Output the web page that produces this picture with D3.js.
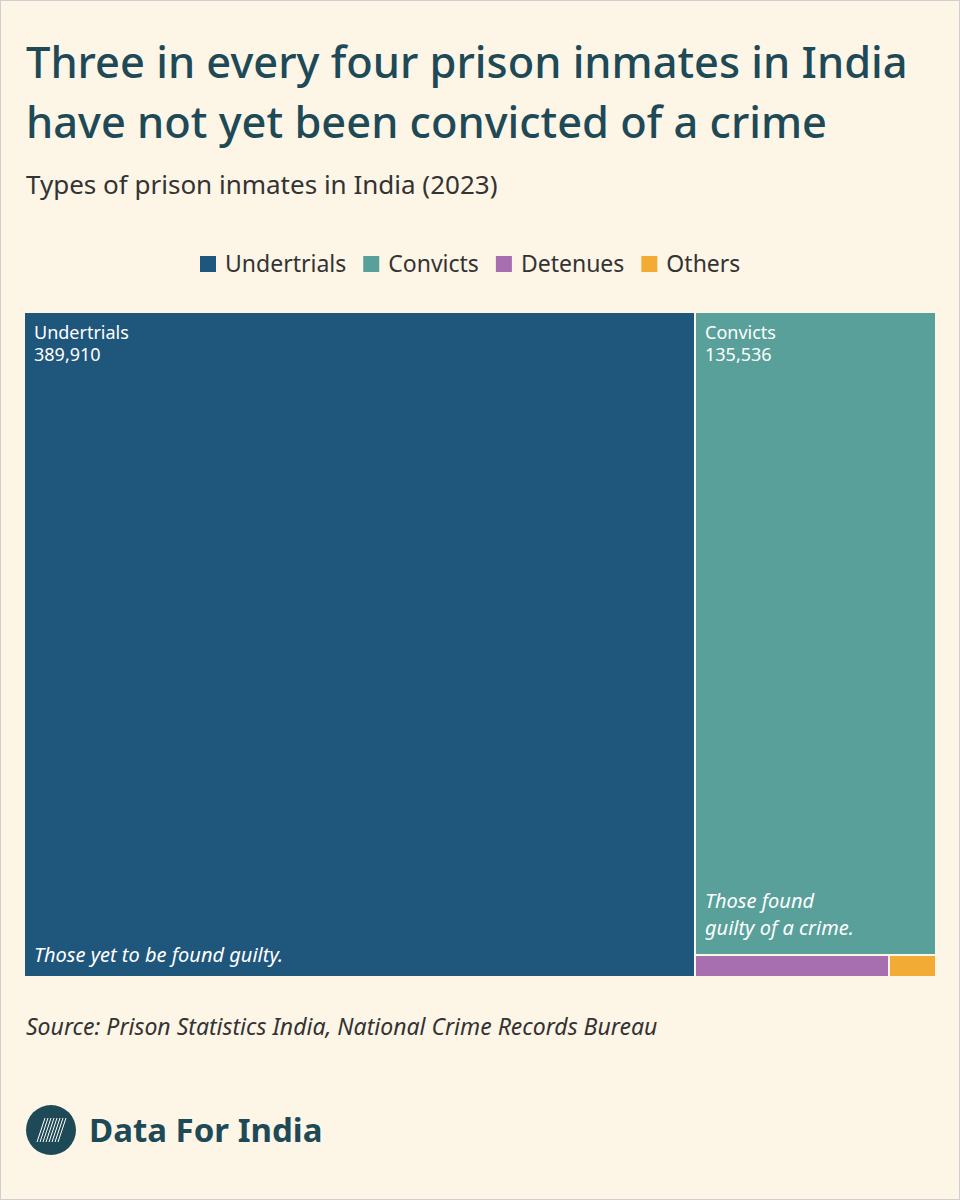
<!DOCTYPE html>
<html><head><meta charset="utf-8">
<script src="https://cdn.jsdelivr.net/npm/d3@7"></script>
<style>
body{margin:0;background:#fff;}
svg text{font-family:"Noto Sans",sans-serif;}
</style></head>
<body><div id="area"></div>
<script>
var categories = ['Undertrials', 'Convicts', 'Detenues', 'Others'];
var values = [389910, 135536, 3750, 900];
var colors = ['#1f567b', '#59a09a', '#a76eb0', '#f2ab34'];
var notes = {Undertrials: ['Those yet to be found guilty.'], Convicts: ['Those found', 'guilty of a crime.']};

var width = 960, height = 1200;
var svg = d3.select('#area').append('svg').attr('width', width).attr('height', height);
svg.append('rect').attr('x', 0.5).attr('y', 0.5).attr('width', width - 1).attr('height', height - 1)
  .attr('fill', '#fdf5e6').attr('stroke', '#cfcfcf');

svg.append('text').attr('x', 26).attr('y', 78).attr('font-size', 43.4).attr('font-weight', 500)
  .attr('fill', '#1e4a57').text('Three in every four prison inmates in India');
svg.append('text').attr('x', 26).attr('y', 138).attr('font-size', 43.4).attr('font-weight', 500)
  .attr('fill', '#1e4a57').text('have not yet been convicted of a crime');
svg.append('text').attr('x', 26).attr('y', 194).attr('font-size', 26)
  .attr('fill', '#333').text('Types of prison inmates in India (2023)');

// legend
var leg = svg.append('g').attr('transform', 'translate(0,264)');
var lx = 200;
categories.forEach(function(c, i) {
  leg.append('rect').attr('x', lx).attr('y', -8).attr('width', 16).attr('height', 16).attr('fill', colors[i]);
  var t = leg.append('text').attr('x', lx + 25).attr('y', 8).attr('font-size', 23).attr('fill', '#333').text(c);
  lx += 25 + t.node().getComputedTextLength() + 17;
});

// nested tree so slice-dice alternates like the reference
var data = {name: 'root', children: [
  {name: categories[0], value: values[0]},
  {name: 'rest', children: [
    {name: categories[1], value: values[1]},
    {name: 'small', children: [
      {name: categories[2], value: values[2]},
      {name: categories[3], value: values[3]}
    ]}
  ]}
]};
var root = d3.hierarchy(data).sum(function(d) { return d.value || 0; });
d3.treemap().tile(d3.treemapSliceDice).size([910, 663]).paddingInner(2).round(true)(root);

var g = svg.append('g').attr('transform', 'translate(25,313)');
var fmt = d3.format(',');
root.leaves().forEach(function(n) {
  var i = categories.indexOf(n.data.name);
  g.append('rect').attr('x', n.x0).attr('y', n.y0).attr('width', n.x1 - n.x0).attr('height', n.y1 - n.y0)
    .attr('fill', colors[i]);
  if (notes[n.data.name]) {
    g.append('text').attr('x', n.x0 + 9).attr('y', n.y0 + 26).attr('font-size', 18).attr('fill', '#fff').text(n.data.name);
    g.append('text').attr('x', n.x0 + 9).attr('y', n.y0 + 48).attr('font-size', 18).attr('fill', '#fff').text(fmt(n.data.value));
    var ln = notes[n.data.name];
    var off = ln.length > 1 ? 19 : 14;
    ln.forEach(function(l, k) {
      g.append('text').attr('x', n.x0 + 9).attr('y', n.y1 - off - (ln.length - 1 - k) * 27)
        .attr('font-size', 20).attr('font-style', 'italic').attr('fill', '#fff').text(l);
    });
  }
});

svg.append('text').attr('x', 26).attr('y', 1035).attr('font-size', 23).attr('font-style', 'italic')
  .attr('fill', '#333').text('Source: Prison Statistics India, National Crime Records Bureau');

// logo
var logo = svg.append('g').attr('transform', 'translate(51,1130)');
logo.append('circle').attr('r', 25).attr('fill', '#1e4a57');
d3.range(-10, 12, 3).forEach(function(k) {
  logo.append('line').attr('x1', k - 4).attr('y1', 12).attr('x2', k + 4).attr('y2', -12)
    .attr('stroke', '#fff').attr('stroke-width', 1);
});
svg.append('text').attr('x', 89).attr('y', 1142).attr('font-size', 33).attr('font-weight', 700)
  .attr('fill', '#1e4a57').text('Data For India');
</script></body></html>
